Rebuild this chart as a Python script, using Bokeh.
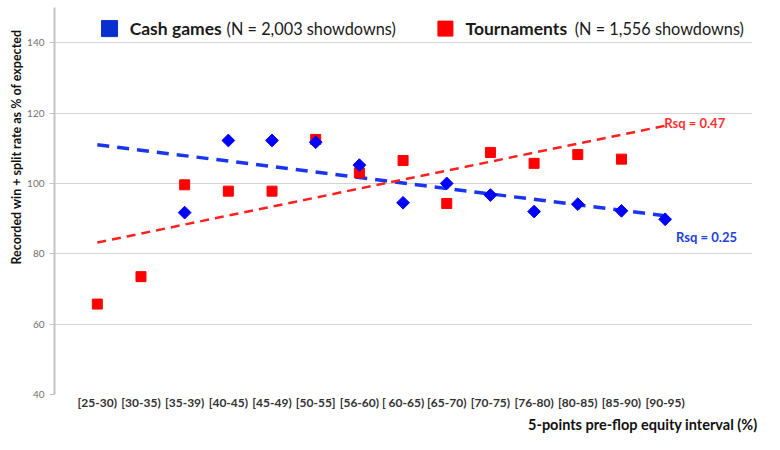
import math
from bokeh.plotting import figure
from bokeh.models import FixedTicker, Label, Range1d, Title
from bokeh.embed import file_html
from bokeh.resources import INLINE

# ---- data ----
categories = ["[25-30)", "[30-35)", "[35-39)", "[40-45)", "[45-49)", "[50-55]", "[56-60)",
              "[ 60-65)", "[65-70)", "[70-75)", "[76-80)", "[80-85)", "[85-90)", "[90-95)"]
cash_idx = [2, 3, 4, 5, 6, 7, 8, 9, 10, 11, 12, 13]
cash_values = [91.7, 112.2, 112.2, 111.7, 105.2, 94.5, 100.0, 96.7, 92.0, 94.1, 92.2, 89.8]
tour_idx = [0, 1, 2, 3, 4, 5, 6, 7, 8, 9, 10, 11, 12]
tour_values = [65.7, 73.5, 99.6, 97.8, 97.8, 112.5, 103.0, 106.5, 94.3, 108.8, 105.7, 108.2, 106.9]
trend_idx = [0, 13]
cash_trend = [111.0, 90.8]
tour_trend = [83.2, 116.4]
y_ticks = [40, 60, 80, 100, 120, 140]

FONT = "Lato"
BLUE = "#0000ff"
RED = "#ff0000"

p = figure(width=770, height=434, output_backend="svg", toolbar_location=None,
           x_range=Range1d(-0.98, 15.0), y_range=Range1d(40, 150),
           min_border_left=54, min_border_right=18, min_border_top=7, min_border_bottom=40)
p.outline_line_color = None
p.background_fill_color = "white"
p.border_fill_color = "white"

# grid
p.xgrid.visible = False
p.ygrid.ticker = FixedTicker(ticks=y_ticks)
p.ygrid.grid_line_color = "#a8a8a8"
p.ygrid.grid_line_dash = "1 1"
p.ygrid.grid_line_width = 1

# y axis
p.yaxis.ticker = FixedTicker(ticks=y_ticks)
p.yaxis.axis_line_color = "#c4c4c4"
p.yaxis.axis_line_width = 2
p.yaxis.major_tick_line_color = "#c4c4c4"
p.yaxis.major_tick_out = 5
p.yaxis.major_tick_in = 0
p.yaxis.minor_tick_line_color = None
p.yaxis.major_label_text_font = FONT
p.yaxis.major_label_text_font_size = "10px"
p.yaxis.major_label_text_color = "#707070"
p.yaxis.major_label_standoff = 5

# y axis title (placed toward the top, as in the reference)
p.add_layout(Title(text="Recorded win + split rate as % of expected", align="right", offset=22,
                   standoff=2, text_font=FONT, text_font_style="bold",
                   text_font_size="12.5px", text_color="#111111"), "left")

# x axis
p.xaxis.ticker = FixedTicker(ticks=list(range(len(categories))))
p.xaxis.major_label_overrides = {i: c for i, c in enumerate(categories)}
p.xaxis.axis_line_color = None
p.xaxis.major_tick_line_color = None
p.xaxis.minor_tick_line_color = None
p.xaxis.major_tick_out = 0
p.xaxis.major_tick_in = 0
p.xaxis.major_label_standoff = 0
p.xaxis.major_label_text_font = FONT
p.xaxis.major_label_text_font_style = "bold"
p.xaxis.major_label_text_font_size = "12px"
p.xaxis.major_label_text_color = "#333333"

# x axis title
p.add_layout(Title(text="5-points pre-flop equity interval (%)", align="right", offset=-5,
                   standoff=3, text_font=FONT, text_font_style="bold",
                   text_font_size="14.5px", text_color="#111111"), "below")

# trend lines
p.line(trend_idx, cash_trend, line_color="#1a35f0", line_width=3.5, line_dash="12 8")
p.line(trend_idx, tour_trend, line_color="#ff2020", line_width=2.5, line_dash="9 6")

# markers
p.scatter(tour_idx, tour_values, marker="square", size=10, fill_color=RED, line_color=RED)
p.scatter(cash_idx, cash_values, marker="square", angle=math.pi / 4, size=9,
          fill_color=BLUE, line_color=BLUE)

# legend (custom, mixed bold / regular text)
p.scatter([0.28], [144.0], marker="square", size=16, fill_color="#0a2fd0", line_color="#0a2fd0")
p.scatter([7.97], [144.0], marker="square", size=15, fill_color=RED, line_color=RED)
bold_kw = dict(text_font=FONT, text_font_size="17.5px", text_font_style="bold",
               text_baseline="middle", text_color="#1a1a1a")
reg_kw = dict(text_font=FONT, text_font_size="16.3px", text_baseline="middle", text_color="#1a1a1a")
p.add_layout(Label(x=0.74, y=144.0, text="Cash games", **bold_kw))
p.add_layout(Label(x=2.96, y=144.0, text="(N = 2,003 showdowns)", **reg_kw))
p.add_layout(Label(x=8.43, y=144.0, text="Tournaments", **bold_kw))
p.add_layout(Label(x=10.93, y=144.0, text="(N = 1,556 showdowns)", **reg_kw))

# R-squared labels
p.add_layout(Label(x=12.98, y=117.3, text="Rsq = 0.47", text_font=FONT, text_font_style="bold",
                   text_font_size="13px", text_color="#ff3030", text_baseline="middle"))
p.add_layout(Label(x=13.25, y=84.9, text="Rsq = 0.25", text_font=FONT, text_font_style="bold",
                   text_font_size="13px", text_color="#2040e0", text_baseline="middle"))

open("out.html", "w").write(file_html(p, INLINE))
